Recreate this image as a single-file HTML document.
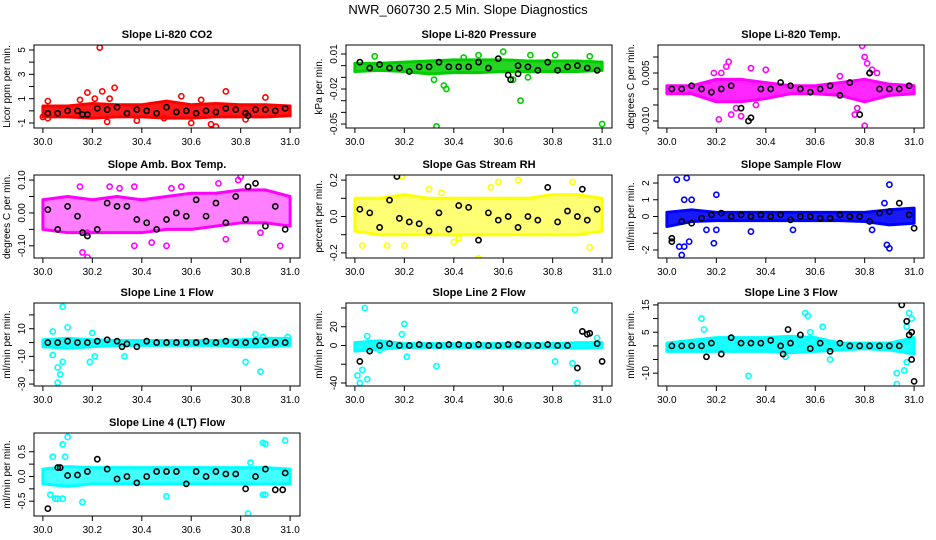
<!DOCTYPE html>
<html><head><meta charset="utf-8"><style>
body{margin:0;background:#fff;}
svg{display:block;font-family:"Liberation Sans",sans-serif;}
</style></head><body>
<svg id="c" width="936" height="540">
<text x="468" y="14" text-anchor="middle" font-size="13">NWR_060730  2.5 Min. Slope Diagnostics</text>
</svg>
<script>
// shared sample times for black points
const blackX=[30.02,30.06,30.10,30.14,30.18,30.22,30.26,30.30,30.34,30.38,30.42,30.46,30.50,30.54,30.58,30.62,30.66,30.70,30.74,30.78,30.82,30.86,30.90,30.94,30.98];
const bandX=[30.0,30.1,30.2,30.3,30.4,30.5,30.6,30.7,30.8,30.9,31.0];
const xTicks=[30.0,30.2,30.4,30.6,30.8,31.0];
const xTickLabels=["30.0","30.2","30.4","30.6","30.8","31.0"];

const titles=["Slope Li-820 CO2","Slope Li-820 Pressure","Slope Li-820 Temp.","Slope Amb. Box Temp.","Slope Gas Stream RH","Slope Sample Flow","Slope Line 1 Flow","Slope Line 2 Flow","Slope Line 3 Flow","Slope Line 4 (LT) Flow"];
const yLabels=["Licor ppm per min.","kPa per min.","degrees C per min.","degrees C per min.","percent per min.","ml/min per min.","ml/min per min.","ml/min per min.","ml/min per min.","ml/min per min."];
const colors=["#ff0000","#00cc00","#ff00ff","#ff00ff","#ffff00","#0000ff","#00ffff","#00ffff","#00ffff","#00ffff"];
const yMin=[-1.41,-0.0534,-0.0122,-0.137,-0.228,-2.48,-31.4,-43.2,-14.7,-0.8];
const yMax=[5.41,0.0177,0.01375,0.1154,0.228,2.48,28.6,45.3,15.7,0.88];
const yTicks=[[-1,0,1,2,3,4,5],[0.01,0,-0.01,-0.02,-0.03,-0.04,-0.05],[0.01,0.005,0,-0.005,-0.01],[0.1,0.05,0,-0.05,-0.1],[0.2,0.1,0,-0.1,-0.2],[2,1,0,-1,-2],[20,10,0,-10,-20,-30],[40,20,0,-20,-40],[15,10,5,0,-5,-10],[0.5,0.25,0,-0.25,-0.5]];
const yTickLabels=[["-1","","1","","3","","5"],["0.01","","","-0.02","","","-0.05"],["","0.005","","","-0.010"],["0.10","","0.00","","-0.10"],["0.2","","0.0","","-0.2"],["2","1","0","","-2"],["","10","","-10","","-30"],["","20","0","","-40"],["15","","5","","","-10"],["0.5","","0.0","","-0.5"]];

const bandLo=[[-0.5,-0.5,-0.6,-0.5,-0.5,-0.6,-0.6,-0.5,-0.5,-0.5,-0.4],[-0.005,-0.004,-0.005,-0.007,-0.006,-0.006,-0.005,-0.005,-0.005,-0.005,-0.004],[-0.0015,-0.0015,-0.004,-0.004,-0.003,-0.0015,-0.0015,-0.002,-0.004,-0.002,-0.0015],[-0.05,-0.06,-0.06,-0.06,-0.06,-0.05,-0.05,-0.04,-0.03,-0.03,-0.04],[-0.08,-0.1,-0.1,-0.1,-0.1,-0.1,-0.1,-0.1,-0.1,-0.1,-0.08],[-0.6,-0.3,-0.25,-0.25,-0.25,-0.25,-0.25,-0.25,-0.3,-0.5,-0.4],[-3,-4,-3,-2,-2,-2,-2,-2,-3,-3,-2],[-6,-4,-2,-2,-2,-2,-2,-2,-2,-3,-2],[-2,-2,-2,-2,-2,-2.5,-2,-1.5,-1,-1.5,-3],[-0.15,-0.2,-0.15,-0.15,-0.15,-0.15,-0.15,-0.15,-0.15,-0.15,-0.15]];
const bandHi=[[0.4,0.4,0.6,0.5,0.5,0.8,0.5,0.6,0.5,0.5,0.4],[0.002,0.002,0.003,0.004,0.005,0.005,0.005,0.004,0.004,0.004,0.003],[0.001,0.001,0.003,0.003,0.002,0.001,0.001,0.002,0.003,0.0015,0.001],[0.04,0.05,0.04,0.05,0.04,0.05,0.06,0.06,0.07,0.07,0.05],[0.1,0.1,0.12,0.1,0.1,0.1,0.1,0.1,0.12,0.12,0.1],[0.25,0.4,0.25,0.25,0.25,0.25,0.25,0.25,0.25,0.4,0.5],[2,3,2,1.5,1.5,1.5,1.5,1.5,2,3,3],[3,5,2,2,2,2,2,2,2,3,3],[1,2,3,3,3,3.5,3,1,1,1,3],[0.15,0.2,0.18,0.18,0.18,0.18,0.18,0.18,0.18,0.18,0.15]];
const bandOpacity=[0.9,0.85,0.85,0.5,0.55,0.9,0.9,0.9,0.9,0.75];

const blackY=[[-0.2,-0.2,0,0,-0.3,0.2,0.1,0.3,-0.2,0.1,0,-0.2,0.3,-0.1,0,-0.2,0,-0.1,0.2,0.1,-0.2,0.1,0.1,0,0.2],
[0.003,-0.002,0.001,-0.002,-0.002,-0.005,-0.001,-0.001,0.003,-0.001,-0.001,-0.001,0.003,-0.002,0.006,-0.008,0,-0.001,-0.004,0.003,-0.004,-0.001,0,-0.002,-0.004],
[0,0,0.001,0,-0.001,0,0.001,-0.006,-0.009,0,0,0.002,0.001,0,-0.001,0,0.001,-0.002,0.002,-0.008,0.005,0,0,0,0.001],
[0.01,-0.05,0.02,-0.01,-0.07,-0.05,0.03,0.02,0.02,-0.02,-0.03,-0.05,-0.02,0,-0.01,0.04,-0.01,0.03,-0.03,0.05,-0.02,0.09,-0.04,0.02,-0.05],
[0.04,0.02,-0.06,0.09,-0.01,-0.03,-0.04,-0.08,0.02,-0.07,0.06,0.05,-0.13,0.02,-0.02,0,-0.06,0,-0.02,0.16,-0.03,0.03,0,-0.02,0.04],
[-1.3,-0.3,-0.4,-0.1,0.1,0.2,0,0.1,0,0.1,0,0.1,-0.2,0,0,-0.1,-0.1,0.1,0,0,-0.3,0.2,0.3,0.8,0.1],
[0,0,1,0,0,1,2,1,-1,-3,1,0,0,0,0,0,1,0,1,0,0,1,1,0,0],
[-17,-6,0,2,0,0,1,0,0,1,1,0,1,0,0,1,1,0,0,1,0,0,-24,12,2],
[0,0,0,0,1,-3,3,1,1,1,2,0,1,4,-1,1,-2,1,0,0,0,0,0,0,4],
[-0.65,0.18,0.02,0.03,0.1,0.35,0.15,-0.05,0,-0.13,0,0.1,0.1,0.1,-0.15,0.1,0,0.1,0.05,0.05,-0.25,0,0.15,-0.27,0.07]];

const outX=[[30.23,30.29,30.24,30.74,30.18,30.27,30.21,30.9,30.56,30.6,30.7,30.68,30.26,30.38,30.02,30.15,30.0,30.02,30.82,30.49,30.64],
[30.33,31.0,30.67,30.36,30.37,30.32,30.6,30.08,30.71,30.95,30.81,30.64,30.7,30.5,30.44],
[30.79,30.8,30.8,30.81,30.25,30.34,30.4,30.21,30.26,30.3,30.76,30.7,30.19,30.83,30.22,30.28,30.24,30.36,30.85,30.77],
[30.16,30.18,30.8,30.79,30.96,30.15,30.27,30.31,30.37,30.44,30.56,30.71,30.37,30.18,30.5,30.52,30.74,30.88],
[30.17,30.19,30.5,30.58,30.95,30.03,30.13,30.2,30.42,30.55,30.66,30.88,30.3,30.4,30.35],
[30.04,30.08,30.2,30.05,30.07,30.06,30.09,30.19,30.9,30.89,30.9,30.1,30.07,30.16,30.51,30.34,30.83,30.88,30.2],
[30.08,30.1,30.04,30.19,30.21,30.33,30.06,30.06,30.07,30.08,30.04,30.82,30.88,30.86,30.89,30.2,30.99],
[30.04,30.2,30.19,30.05,30.02,30.01,30.03,30.05,30.1,30.33,30.89,30.9,30.81,30.88,30.98,30.21],
[30.56,30.57,30.98,30.99,30.97,30.93,30.93,30.96,30.14,30.15,30.33,30.63,30.66,30.48,30.58,30.97],
[30.1,30.08,30.98,30.89,30.9,30.04,30.09,30.16,30.5,30.83,30.05,30.06,30.08,30.89,30.9,30.84,30.03]];
const outY=[[5.2,1.9,1.6,1.6,1.5,1.0,1.0,1.1,1.2,-1.0,-1.3,-1.1,-0.9,-0.8,0.8,0.9,-0.5,-0.6,-0.7,-0.6,0.9],
[-0.052,-0.05,-0.03,-0.017,-0.02,-0.012,0.012,0.008,0.009,0.008,0.009,-0.012,-0.01,0.009,0.007],
[0.0135,-0.0115,0.01,0.008,0.0085,0.0065,0.006,-0.0095,-0.008,-0.0085,-0.008,0.004,0.005,0.006,0.005,-0.006,0.007,-0.005,0.005,-0.006],
[-0.12,-0.135,0.11,0.1,-0.1,0.08,0.08,0.075,-0.1,-0.09,0.08,0.09,0.08,-0.06,-0.1,0.075,-0.08,-0.06],
[0.22,0.22,-0.23,0.19,-0.17,-0.16,-0.16,-0.16,-0.12,0.16,0.2,0.19,0.15,-0.14,0.13],
[2.2,2.3,1.3,-1.8,-1.8,-2.3,-1.5,-1.6,1.9,-1.7,-1.9,1.0,1.0,-0.8,-0.8,-0.9,-0.8,0.8,-0.8],
[26,11,8,-14,-10,-10,-29,-18,-23,-14,-9,-14,-21,6,4,7,4],
[40,23,12,-36,-40,-32,-26,10,-5,-22,38,-40,-17,-19,8,-12],
[12,11,12,10,7,-10,-14,-9,10,6,-11,7,-5,-4,5,-6],
[0.8,0.65,0.73,0.68,0.66,0.4,0.4,-0.52,-0.4,-0.75,-0.45,-0.45,-0.45,-0.37,-0.37,0.28,-0.37]];
const blackOutX=[[30.16,30.83],[30.66,30.63],[30.33,30.82],[30.16,30.83],[30.17,30.92],[30.02,31.0],[30.32],[30.92,30.95,31.0],[30.95,30.97,30.99,31.0,30.99,30.16,30.49,30.47],[30.07,30.97]];
const blackOutY=[[-0.3,-0.4],[-0.007,-0.012],[-0.01,0.005],[-0.06,0.08],[0.22,0.15],[-1.5,-0.7],[-3],[15,13,-17],[15,9,-5,-13,5,-4,6,-3],[0.18,-0.27]];

const NS="http://www.w3.org/2000/svg";
const svg=document.getElementById("c");
const colLeft=[34,346,658], rowTop=[45,175,303,433], W=266, H=83;
const xMin=29.964, xMax=31.04;
function mk(tag,attrs,parent){const e=document.createElementNS(NS,tag);for(const k in attrs)e.setAttribute(k,attrs[k]);(parent||svg).appendChild(e);return e;}

for(let p=0;p<10;p++){
  const L=colLeft[p%3], T=rowTop[Math.floor(p/3)];
  const g=mk("g",{});
  
  
  const sx=v=>L+(v-xMin)/(xMax-xMin)*W;
  const sy=v=>T+H-(v-yMin[p])/(yMax[p]-yMin[p])*H;
  const clip=mk("clipPath",{id:"cl"+p},g);
  mk("rect",{x:L,y:T,width:W,height:H},clip);
  const pg=mk("g",{"clip-path":"url(#cl"+p+")"},g);
  let pts=[];
  for(let i=0;i<bandX.length;i++)pts.push(sx(bandX[i])+","+sy(bandHi[p][i]));
  for(let i=bandX.length-1;i>=0;i--)pts.push(sx(bandX[i])+","+sy(bandLo[p][i]));
  const band=mk("polygon",{points:pts.join(" "),fill:colors[p],"fill-opacity":bandOpacity[p],stroke:colors[p],"stroke-width":3,"stroke-linejoin":"round"},pg);
  
  
  for(let i=0;i<outX[p].length;i++){
    const c=mk("circle",{cx:sx(outX[p][i]),cy:sy(outY[p][i]),r:2.6,fill:"none",stroke:colors[p],"stroke-width":1.6},pg);
    
    
  }
  for(let i=0;i<blackX.length;i++){
    const c=mk("circle",{cx:sx(blackX[i]),cy:sy(blackY[p][i]),r:2.6,fill:"none",stroke:"#000","stroke-width":1.6},pg);
    
    
  }
  for(let i=0;i<blackOutX[p].length;i++){
    const c=mk("circle",{cx:sx(blackOutX[p][i]),cy:sy(blackOutY[p][i]),r:2.6,fill:"none",stroke:"#000","stroke-width":1.6},pg);
    
    
  }
  const box=mk("rect",{x:L,y:T,width:W,height:H,fill:"none",stroke:"#000","stroke-width":1},g);
  
  
  const tt=mk("text",{x:L+W/2,y:T-7,"text-anchor":"middle","font-size":11,"font-weight":"bold"},g);
  tt.textContent=titles[p];
  
  
  for(let i=0;i<xTicks.length;i++){
    const x=sx(xTicks[i]);
    mk("line",{x1:x,x2:x,y1:T+H,y2:T+H+5,stroke:"#000"},g);
    const t=mk("text",{x:x,y:T+H+17,"text-anchor":"middle","font-size":10},g);
    t.textContent=xTickLabels[i];
    
    
  }
  for(let i=0;i<yTicks[p].length;i++){
    const y=sy(yTicks[p][i]);
    mk("line",{x1:L-5,x2:L,y1:y,y2:y,stroke:"#000"},g);
    if(yTickLabels[p][i]){
      const t=mk("text",{x:L-9,y:y,"text-anchor":"middle","font-size":10,transform:"rotate(-90 "+(L-9)+" "+y+")"},g);
      t.textContent=yTickLabels[p][i];
      
      
    }
  }
  const yl=mk("text",{x:L-24,y:T+H/2,"text-anchor":"middle","font-size":10,transform:"rotate(-90 "+(L-24)+" "+(T+H/2)+")"},g);
  yl.textContent=yLabels[p];
  
  
}
</script>
</body></html>
